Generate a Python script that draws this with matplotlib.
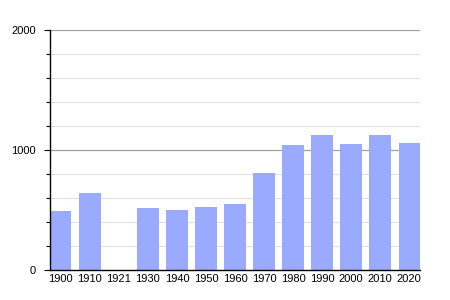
import matplotlib
matplotlib.use("Agg")
import matplotlib.pyplot as plt
import numpy as np

plt.rcParams["font.family"] = ["Liberation Sans", "DejaVu Sans"]

years = ["1900", "1910", "1921", "1930", "1940", "1950", "1960", "1970", "1980", "1990", "2000", "2010", "2020"]
population = [495, 645, 0, 517, 500, 525, 553, 808, 1044, 1125, 1050, 1125, 1058]
major_ticks = [0, 1000, 2000]
minor_ticks = [200, 400, 600, 800, 1200, 1400, 1600, 1800]

fig = plt.figure(figsize=(4.5, 3), dpi=100)
ax = fig.add_axes([50/450, 30/300, 370/450, 240/300])

x = np.arange(len(years))
w = 21/28.4
for m in minor_ticks:
    ax.axhline(m, color="#e0e0e0", lw=0.8, zorder=0)
for m in major_ticks[1:]:
    ax.axhline(m, color="#a0a0a0", lw=0.9, zorder=0)
ax.bar(x, population, width=w, color="#99aaff", zorder=2)

ax.set_xlim(-w/2, len(years) - 1 + w/2)
ax.set_ylim(0, 2000)
ax.set_yticks(major_ticks)
ax.set_yticks(minor_ticks, minor=True)
ax.set_xticks(x)
ax.set_xticklabels(years)
for s in ["top", "right"]:
    ax.spines[s].set_visible(False)
ax.spines["left"].set_linewidth(1.0)
ax.spines["bottom"].set_linewidth(1.0)
ax.tick_params(axis="y", which="major", length=4, width=0.8, labelsize=8, pad=6)
ax.tick_params(axis="y", which="minor", length=3, width=0.8)
ax.tick_params(axis="x", length=0, labelsize=8, pad=3)

fig.savefig("out.png", dpi=100)
